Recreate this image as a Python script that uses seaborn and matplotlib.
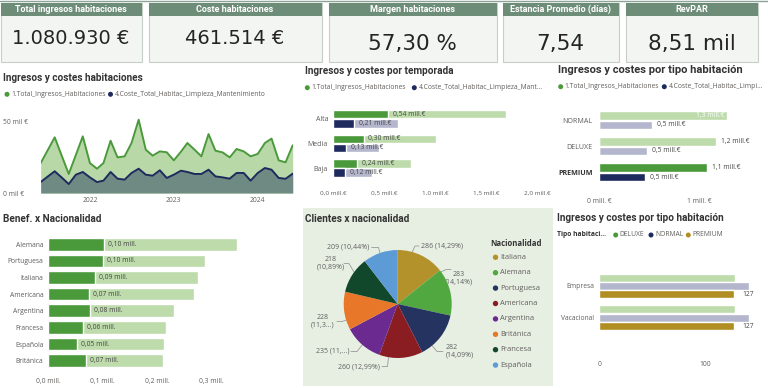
import numpy as np
import pandas as pd
import matplotlib
matplotlib.use('Agg')
import matplotlib.pyplot as plt
from matplotlib.patches import Rectangle, Circle
from matplotlib import font_manager as fm
import seaborn as sns

# ---------------- data ----------------
KPI_TITLES = ['Total ingresos habitaciones', 'Coste habitaciones', 'Margen habitaciones',
              'Estancia Promedio (días)', 'RevPAR']
KPI_VALUES = ['1.080.930 €', '461.514 €', '57,30 %', '7,54', '8,51 mil']

MESES = pd.date_range('2021-06-01', periods=37, freq='MS')
INGRESOS_MES = [21.1, 30.0, 39.2, 26.0, 13.4, 26.8, 39.9, 21.1, 17.1, 21.1, 36.8, 25.1, 25.8,
                35.2, 51.6, 30.5, 26.3, 29.3, 28.7, 23.0, 29.1, 35.2, 30.5, 25.8, 41.5, 29.8,
                28.6, 25.1, 31.0, 29.3, 25.8, 27.5, 35.2, 38.3, 23.0, 21.6, 33.6]
COSTES_MES = [7.7, 11.5, 15.3, 10.8, 6.3, 12.9, 14.8, 11.0, 7.7, 8.7, 14.8, 10.1, 9.4,
              14.1, 17.1, 12.9, 12.2, 16.0, 10.6, 12.9, 15.7, 14.8, 13.4, 13.4, 16.4, 11.7,
              11.0, 10.1, 14.1, 14.1, 8.7, 14.1, 17.6, 16.4, 10.6, 10.0, 13.6]
YEAR_TICKS = ['2022', '2023', '2024']
LINE_YTICKS = [0, 50]
LINE_YTICKLABELS = ['0 mil €', '50 mil €']

SERIES = ['1.Total_Ingresos_Habitaciones', '4.Coste_Total_Habitac_Limpieza_Mantenimiento']

TEMPORADAS = ['Alta', 'Media', 'Baja']
ING_TEMP_TOTAL = [1.70, 1.01, 0.76]
ING_TEMP_SEL = [0.54, 0.30, 0.24]
COST_TEMP_TOTAL = [0.64, 0.45, 0.38]
COST_TEMP_SEL = [0.21, 0.13, 0.12]
TEMP_TICKS = [0.0, 0.5, 1.0, 1.5, 2.0]
TEMP_TICKLABELS = ['0,0 mill.€', '0,5 mill.€', '1,0 mill.€', '1,5 mill.€', '2,0 mill.€']

TIPOS = ['NORMAL', 'DELUXE', 'PREMIUM']
ING_TIPO = [1.28, 1.17, 1.08]
COST_TIPO = [0.53, 0.48, 0.46]
TIPO_SEL = 'PREMIUM'
TIPO_TICKS = [0, 1]
TIPO_TICKLABELS = ['0 mill. €', '1 mill. €']

NAC_BENEF = ['Alemana', 'Portuguesa', 'Italiana', 'Americana', 'Argentina', 'Francesa',
             'Española', 'Británica']
BENEF_TOTAL = [0.347, 0.287, 0.275, 0.267, 0.230, 0.216, 0.213, 0.210]
BENEF_SEL = [0.102, 0.100, 0.086, 0.074, 0.077, 0.063, 0.052, 0.069]
BENEF_TICKS = [0.0, 0.1, 0.2, 0.3]
BENEF_TICKLABELS = ['0,0 mill.', '0,1 mill.', '0,2 mill.', '0,3 mill.']

NAC_PIE = ['Italiana', 'Alemana', 'Portuguesa', 'Americana', 'Argentina', 'Británica',
           'Francesa', 'Española']
CLIENTES = [286, 283, 282, 260, 235, 228, 218, 209]
PIE_LABELS = ['286 (14,29%)', '283\n(14,14%)', '282\n(14,09%)', '260 (12,99%)',
              '235 (11,...)', '228\n(11,3...)', '218\n(10,89%)', '209 (10,44%)']
PIE_COLORS = ['#b3922b', '#52a840', '#24335f', '#8a1d22', '#6a2a90', '#e8772a',
              '#11472b', '#5d9bd6']

MOTIVOS = ['Empresa', 'Vacacional']
TIPOS_HAB = ['DELUXE', 'NORMAL', 'PREMIUM']
RES_DELUXE = [128, 128]
RES_NORMAL = [142, 142]
RES_PREMIUM = [127, 127]
RES_TICKS = [0, 100]

# ---------------- style ----------------
GREEN = '#4a9a3b'
GREEN_L = '#bddbab'
NAVY = '#1e2a5e'
NAVY_L = '#b3b6cc'
GOLD = '#b08e22'
AREA_G = '#b9d8a7'
AREA_N = '#6f8a83'
TXT = '#605e5c'
TITLE_C = '#333333'

sns.set_theme(style='white')
names = {f.name for f in fm.fontManager.ttflist}
COND = 'Liberation Sans Narrow' if 'Liberation Sans Narrow' in names else 'Roboto'
plt.rcParams['font.family'] = ['Open Sans', 'DejaVu Sans']

FS_T = 4.85     # small texts
FS_TITLE = 7.2

W, H = 768, 388
fig = plt.figure(figsize=(W / 100, H / 100), dpi=100)
fig.patch.set_facecolor('white')

bg = fig.add_axes([0, 0, 1, 1])
bg.set_xlim(0, W)
bg.set_ylim(H, 0)
bg.axis('off')


def axes_px(x0, y0, x1, y1):
    ax = fig.add_axes([x0 / W, 1 - y1 / H, (x1 - x0) / W, (y1 - y0) / H])
    ax.set_facecolor('none')
    for s in ax.spines.values():
        s.set_visible(False)
    ax.tick_params(length=0, labelsize=FS_T, labelcolor=TXT)
    ax.set_xlabel('')
    ax.set_ylabel('')
    return ax


def T(x, y, s, fs=FS_T, color=TXT, **kw):
    kw.setdefault('va', 'center')
    return bg.text(x, y, s, fontsize=fs, color=color, **kw)


def dot(x, y, c, r=2.5):
    bg.add_patch(Circle((x, y), r, color=c, lw=0))


def title(x, y, s, fs=FS_TITLE):
    T(x, y, s, fs=fs, color=TITLE_C, fontweight='bold', family=[COND, 'DejaVu Sans'])


def fmt(v, d):
    return f'{v:.{d}f}'.replace('.', ',')


# ---------------- KPI cards ----------------
CARDS = [(0, 142), (148, 322), (328, 497), (502, 619), (625, 758)]
VAL_Y = [39, 39, 44, 44, 44]
VAL_FS = [14, 14, 15.5, 15.5, 15.5]
bg.plot([0, W], [0.6, 0.6], color='#8aa394', lw=1)
for (x0, x1), t, v, vy, vfs in zip(CARDS, KPI_TITLES, KPI_VALUES, VAL_Y, VAL_FS):
    bg.add_patch(Rectangle((x0 + 0.5, 3), x1 - x0 - 1, 58.5, facecolor='#f2f5f1',
                           edgecolor='#c5cfc6', lw=0.8))
    bg.add_patch(Rectangle((x0 + 0.5, 3), x1 - x0 - 1, 12.5, facecolor='#6e8d79', lw=0))
    T((x0 + x1) / 2, 9.3, t, fs=6.5, color='white', ha='center', fontweight='bold',
      family=[COND, 'DejaVu Sans'])
    T((x0 + x1) / 2, vy, v, fs=vfs, color='#252423', ha='center', family='DejaVu Sans')

# ---------------- line chart ----------------
title(3, 77.7, 'Ingresos y costes habitaciones')
dot(7, 94.3, GREEN)
T(11.5, 94.3, SERIES[0])
dot(110.5, 94.3, NAVY)
T(115, 94.3, SERIES[1])

ax1 = axes_px(40.7, 112, 292.7, 193)
df_line = pd.DataFrame({'Mes': MESES, 'Ingresos': INGRESOS_MES, 'Costes': COSTES_MES})
ax1.fill_between(df_line['Mes'], df_line['Ingresos'], color=AREA_G, lw=0)
ax1.fill_between(df_line['Mes'], df_line['Costes'], color=AREA_N, lw=0)
sns.lineplot(data=df_line, x='Mes', y='Ingresos', color=GREEN, lw=1.4, ax=ax1)
sns.lineplot(data=df_line, x='Mes', y='Costes', color=NAVY, lw=1.4, ax=ax1)
ax1.set_xlim(MESES[0], MESES[-1])
ax1.set_ylim(0, (193 - 112) / 1.42)
ax1.set_xticks(pd.to_datetime([f'{y}-01-01' for y in YEAR_TICKS]))
ax1.set_xticklabels(YEAR_TICKS)
ax1.set_yticks(LINE_YTICKS)
ax1.set_yticklabels(LINE_YTICKLABELS)
ax1.set_xlabel('')
ax1.set_ylabel('')
ax1.tick_params(axis='y', pad=(40.7 - 3) / 1.389)
ax1.tick_params(axis='x', pad=2.8)
for lbl in ax1.get_yticklabels():
    lbl.set_ha('left')


def cat_axes(ax, zero_px, ppu, left, right, yc0, sp, top, bot):
    ax.set_xlim((left - zero_px) / ppu, (right - zero_px) / ppu)
    ax.set_ylim((bot - yc0) / sp, (top - yc0) / sp)
    ax.set_xlabel('')
    ax.set_ylabel('')


# ---------------- temporada ----------------
title(305, 70.7, 'Ingresos y costes por temporada')
dot(307.3, 87.7, GREEN)
T(311.5, 87.7, SERIES[0])
dot(414.3, 87.7, NAVY)
T(418.5, 87.7, '4.Coste_Total_Habitac_Limpieza_Mant...')

ax2 = axes_px(333, 104, 545, 182)
df_tt = pd.DataFrame({'Temporada': TEMPORADAS * 2,
                      'Medida': [SERIES[0]] * 3 + [SERIES[1]] * 3,
                      'Valor': ING_TEMP_TOTAL + COST_TEMP_TOTAL})
df_ts = df_tt.assign(Valor=ING_TEMP_SEL + COST_TEMP_SEL)
kw = dict(y='Temporada', x='Valor', hue='Medida', orient='h', width=0.74, gap=0.06,
          saturation=1, legend=False, errorbar=None, ax=ax2)
sns.barplot(data=df_tt, palette=[GREEN_L, NAVY_L], **kw)
sns.barplot(data=df_ts, palette=[GREEN, NAVY], **kw)
cat_axes(ax2, 333, 102, 333, 545, 118.7, 24.7, 104, 182)
ax2.set_xticks(TEMP_TICKS)
ax2.set_xticklabels(TEMP_TICKLABELS)
ax2.tick_params(axis='x', pad=6.5, labelsize=4.6)
ax2.tick_params(axis='y', pad=3.5, labelsize=5)
for c, vals in zip(ax2.containers[2:], [ING_TEMP_SEL, COST_TEMP_SEL]):
    ax2.bar_label(c, labels=[fmt(v, 2) + ' mill.€' for v in vals], padding=3.5,
                  fontsize=FS_T, color='#444444')

# ---------------- tipo habitación (top) ----------------
title(558, 70, 'Ingresos y costes por tipo habitación', fs=8.0)
dot(560.7, 86.7, GREEN)
T(564.8, 86.7, SERIES[0])
dot(664.3, 86.7, NAVY)
T(668.5, 86.7, '4.Coste_Total_Habitac_Limpi...')

ax3 = axes_px(599, 106, 745, 186)
df_tp = pd.DataFrame({'Tipo': TIPOS * 2, 'Medida': [SERIES[0]] * 3 + [SERIES[1]] * 3,
                      'Valor': ING_TIPO + COST_TIPO})
df_tps = df_tp.assign(Valor=np.where(df_tp['Tipo'] == TIPO_SEL, df_tp['Valor'], 0.0))
kw3 = dict(y='Tipo', x='Valor', hue='Medida', orient='h', width=0.72, gap=0.08,
           saturation=1, legend=False, errorbar=None, ax=ax3)
sns.barplot(data=df_tp, palette=[GREEN_L, NAVY_L], **kw3)
sns.barplot(data=df_tps, palette=[GREEN, NAVY], **kw3)
cat_axes(ax3, 599, 100, 599, 745, 120.2, 26.1, 106, 186)
ax3.set_xticks(TIPO_TICKS)
ax3.set_xticklabels(TIPO_TICKLABELS)
ax3.tick_params(axis='x', pad=8.5)
ax3.tick_params(axis='y', pad=4.5, labelsize=5.1)
for lbl in ax3.get_yticklabels():
    if lbl.get_text() == TIPO_SEL:
        lbl.set_fontweight('bold')
        lbl.set_color('#333333')
for ci, vals in zip([0, 1], [ING_TIPO, COST_TIPO]):
    anns = ax3.bar_label(ax3.containers[ci], labels=[fmt(v, 1) + ' mill.€' for v in vals],
                         padding=3.5, fontsize=FS_T, color='#444444')
    if ci == 0:
        anns[0].set_ha('right')
        anns[0].xyann = (-2, 0)
        anns[0].set_color('white')

# ---------------- Benef x nacionalidad ----------------
title(3.3, 219, 'Benef. x Nacionalidad')
ax4 = axes_px(48.3, 233, 245, 370)
df_b = pd.DataFrame({'Nac': NAC_BENEF, 'Total': BENEF_TOTAL, 'Sel': BENEF_SEL})
sns.barplot(data=df_b, y='Nac', x='Total', color=GREEN_L, width=0.76, saturation=1,
            errorbar=None, orient='h', ax=ax4)
sns.barplot(data=df_b, y='Nac', x='Sel', color=GREEN, width=0.76, saturation=1,
            errorbar=None, orient='h', ax=ax4)
cat_axes(ax4, 48.3, 545, 48.3, 245, 244.2, 16.65, 233, 370)
ax4.set_xticks(BENEF_TICKS)
ax4.set_xticklabels(BENEF_TICKLABELS)
ax4.tick_params(axis='x', pad=5.5)
ax4.tick_params(axis='y', pad=3.5)
ax4.bar_label(ax4.containers[1], labels=[fmt(v, 2) + ' mill.' for v in BENEF_SEL],
              padding=3, fontsize=FS_T, color='#444444')

# ---------------- pie ----------------
bg.add_patch(Rectangle((303, 208), 250, 178, facecolor='#e7efe3', lw=0))
title(305, 219, 'Clientes x nacionalidad')
axp = axes_px(343.7, 250, 451.7, 358)
axp.pie(CLIENTES, colors=PIE_COLORS, startangle=90, counterclock=False, radius=1,
        wedgeprops=dict(linewidth=0))
axp.set_xlim(-1, 1)
axp.set_ylim(-1, 1)
PIE_TXT = [(421, 245.7, 'left'), (459, 278, 'center'), (446, 351.5, 'left'),
           (380, 366.5, 'right'), (349.5, 351.5, 'right'), (323, 321.5, 'center'),
           (331, 263.5, 'center'), (369.5, 247.5, 'right')]
PIE_LEAD = [[(412, 252.5), (415, 246), (419, 246)],
            [(441, 272), (446, 269.5), (451, 269.5)],
            [(432, 345.5), (437, 351.5), (443, 351.5)],
            [(388.5, 357.5), (387.5, 366.5), (382, 366.5)],
            [(362.3, 344.8), (357, 351.5), (351, 351.5)],
            [(346.5, 320), (342, 321.5), (337, 321.5)],
            [(354, 272), (349, 263.5), (344, 263.5)],
            [(380, 253), (378.5, 247.5), (371.5, 247.5)]]
for lab, (tx, ty, ha), lead in zip(PIE_LABELS, PIE_TXT, PIE_LEAD):
    T(tx, ty, lab, ha=ha, color='#5f5f5f', linespacing=1.1, fs=5.0)
    xs, ys = zip(*lead)
    bg.plot(xs, ys, color='#9a9a9a', lw=0.6)

T(490.5, 244, 'Nacionalidad', fs=5.6, color='#333333', fontweight='bold')
for i, (n, c) in enumerate(zip(NAC_PIE, PIE_COLORS)):
    y = 257.3 + i * 15.4
    dot(495.5, y, c, r=2.7)
    T(499.8, y, n, fs=5.4)

# ---------------- tipo habitación (bottom) ----------------
title(557.3, 218.3, 'Ingresos y costes por tipo habitación')
T(557.3, 235, 'Tipo habitaci...', fs=FS_T, color='#333333', fontweight='bold')
for (x, n, c) in [(615.7, 'DELUXE', GREEN), (651, 'NORMAL', NAVY), (688.3, 'PREMIUM', GOLD)]:
    dot(x, 235, c)
    T(x + 4, 235, n)

ax5 = axes_px(599.3, 262, 760, 345)
df_r = pd.DataFrame({'Motivo': MOTIVOS * 3,
                     'Tipo': sum([[t] * 2 for t in TIPOS_HAB], []),
                     'Reservas': RES_DELUXE + RES_NORMAL + RES_PREMIUM})
sns.barplot(data=df_r, y='Motivo', x='Reservas', hue='Tipo', palette=[GREEN_L, NAVY_L, GOLD],
            orient='h', width=0.79, gap=0.06, saturation=1, legend=False, errorbar=None,
            ax=ax5)
cat_axes(ax5, 599.3, 1.057, 599.3, 760, 286, 31.7, 262, 345)
ax5.set_xticks(RES_TICKS)
ax5.set_xticklabels([str(t) for t in RES_TICKS])
ax5.tick_params(axis='x', pad=11.5)
ax5.tick_params(axis='y', pad=3.5)
ax5.bar_label(ax5.containers[2], labels=[str(v) for v in RES_PREMIUM], padding=6,
              fontsize=FS_T, color='#444444')

fig.savefig('out.png', dpi=100, facecolor='white')
